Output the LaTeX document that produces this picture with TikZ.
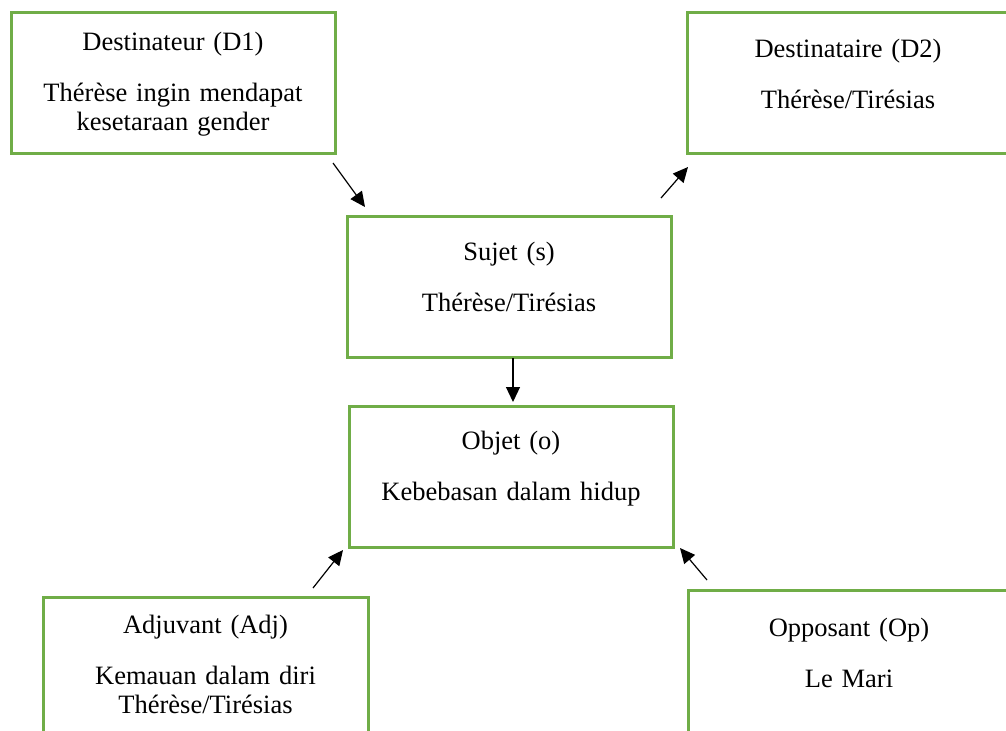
\documentclass[tikz,border=0pt]{standalone}
\usepackage{fontspec}
\setmainfont{Liberation Serif}
\usetikzlibrary{arrows.meta}
\definecolor{boxgreen}{HTML}{70AD47}

\begin{document}
\begin{tikzpicture}[x=0.5pt, y=-0.5pt,
	box/.style={draw=boxgreen, line width=1.5pt, rectangle, outer sep=0pt, inner sep=0pt, anchor=north west},
	lbl/.style={align=center, text width=155pt, inner sep=0pt, anchor=base, font=\fontsize{13.25pt}{14.5pt}\selectfont},
	arr/.style={-{Triangle[length=7.5pt,width=7pt]}, line width=0.6pt}]
		%%%%% START %%%%%
		
		\clip (0, 0) rectangle (1006, 730);
		
		\node[box, minimum width=162pt, minimum height=70.5pt] (d1) at (11, 12) {};
		\node[lbl] (d1txt) at ([shift={(0, 38)}]d1.north) {Destinateur (D1)\\[11pt]Thérèse ingin mendapat\\kesetaraan gender};
		
		\node[box, minimum width=161pt, minimum height=70.5pt] (d2) at (687, 12) {};
		\node[lbl] (d2txt) at ([shift={(0, 45)}]d2.north) {Destinataire (D2)\\[11pt]Thérèse/Tirésias};
		
		\node[box, minimum width=162pt, minimum height=70.5pt] (sujet) at (347, 216) {};
		\node[lbl] (sujettxt) at ([shift={(0, 44)}]sujet.north) {Sujet (s)\\[11pt]Thérèse/Tirésias};
		
		\node[box, minimum width=162pt, minimum height=70.5pt] (objet) at (349, 406) {};
		\node[lbl] (objettxt) at ([shift={(0, 43)}]objet.north) {Objet (o)\\[11pt]Kebebasan dalam hidup};
		
		\node[box, minimum width=162.5pt, minimum height=75pt] (adj) at (43, 597) {};
		\node[lbl] (adjtxt) at ([shift={(0, 36)}]adj.north) {Adjuvant (Adj)\\[11pt]Kemauan dalam diri\\Thérèse/Tirésias};
		
		\node[box, minimum width=161pt, minimum height=75pt] (op) at (688, 590) {};
		\node[lbl] (optxt) at ([shift={(0, 46)}]op.north) {Opposant (Op)\\[11pt]Le Mari};
		
		\draw[arr] ([shift={(-2, 10)}]d1.south east) -- ([shift={(18, -9)}]sujet.north west);
		\draw[arr] ([shift={(-10, -18)}]sujet.north east) -- ([shift={(1, 14)}]d2.south west);
		\draw[arr] ([shift={(4, 1)}]sujet.south) -- ([shift={(2, -4)}]objet.north);
		\draw[arr] ([shift={(-55, -9)}]adj.north east) -- ([shift={(-6, 3)}]objet.south west);
		\draw[arr] ([shift={(19, -10)}]op.north west) -- ([shift={(7, 1)}]objet.south east);
		
		%%%%% END %%%%%
	\end{tikzpicture}
\end{document}
